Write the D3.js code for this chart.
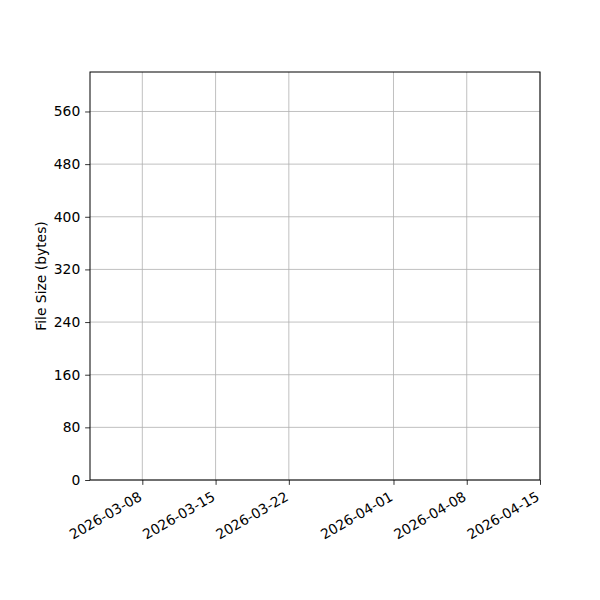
<!DOCTYPE html>
<html><head><meta charset="utf-8">
<script src="https://cdn.jsdelivr.net/npm/d3@7"></script>
<style>body{margin:0;background:#fff} text{font-family:'DejaVu Sans',sans-serif}</style>
</head><body>
<div id="chart"></div>
<script>
const xDomain = ["2026-03-03", "2026-04-15"];
const xTickLabels = ["2026-03-08", "2026-03-15", "2026-03-22", "2026-04-01", "2026-04-08", "2026-04-15"];
const yDomain = [0, 620];
const yTickValues = [0, 80, 160, 240, 320, 400, 480, 560];
const yLabel = "File Size (bytes)";

const W = 600, H = 600;
const m = {left: 90, right: 60, top: 72, bottom: 120};
const parse = d3.utcParse("%Y-%m-%d");
const fmt = d3.utcFormat("%Y-%m-%d");
const FONT = "'DejaVu Sans', sans-serif";
const FS = 13.89;
const TICK = 4.86;

const svg = d3.select("#chart").append("svg").attr("width", W).attr("height", H);

const x = d3.scaleUtc().domain(xDomain.map(parse)).range([m.left, W - m.right]);
const y = d3.scaleLinear().domain(yDomain).range([H - m.bottom, m.top]);

const xt = xTickLabels.map(parse);

// gridlines
svg.append("g").selectAll("line").data(xt).join("line")
  .attr("x1", d => x(d)).attr("x2", d => x(d))
  .attr("y1", y.range()[0]).attr("y2", y.range()[1])
  .attr("stroke", "#b0b0b0").attr("stroke-width", 0.8);
svg.append("g").selectAll("line").data(yTickValues).join("line")
  .attr("x1", x.range()[0]).attr("x2", x.range()[1])
  .attr("y1", d => y(d)).attr("y2", d => y(d))
  .attr("stroke", "#b0b0b0").attr("stroke-width", 0.8);

// x axis
const gx = svg.append("g").attr("transform", `translate(0,${H - m.bottom})`)
  .call(d3.axisBottom(x).tickValues(xt).tickFormat(fmt).tickSize(TICK).tickPadding(TICK));
gx.select(".domain").remove();
gx.selectAll("line").attr("stroke", "#000").attr("stroke-width", 0.8);
gx.selectAll("text").attr("font-size", FS).attr("fill", "#000").attr("font-family", FONT)
  .attr("text-anchor", "end").attr("x", 0).attr("y", 0).attr("dy", 0)
  .attr("transform", "translate(0,19.5) rotate(-30)");

// y axis
const gy = svg.append("g").attr("transform", `translate(${m.left},0)`)
  .call(d3.axisLeft(y).tickValues(yTickValues).tickSize(TICK).tickPadding(TICK));
gy.select(".domain").remove();
gy.selectAll("line").attr("stroke", "#000").attr("stroke-width", 0.8);
gy.selectAll("text").attr("font-size", FS).attr("fill", "#000").attr("font-family", FONT);

// frame
svg.append("rect").attr("x", m.left).attr("y", m.top)
  .attr("width", W - m.left - m.right).attr("height", H - m.top - m.bottom)
  .attr("fill", "none").attr("stroke", "#000").attr("stroke-width", 1);

// y label
svg.append("text").attr("transform", `translate(46,${(m.top + H - m.bottom) / 2}) rotate(-90)`)
  .attr("text-anchor", "middle").attr("font-size", FS).attr("fill", "#000")
  .attr("font-family", FONT).text(yLabel);
</script>
</body></html>
